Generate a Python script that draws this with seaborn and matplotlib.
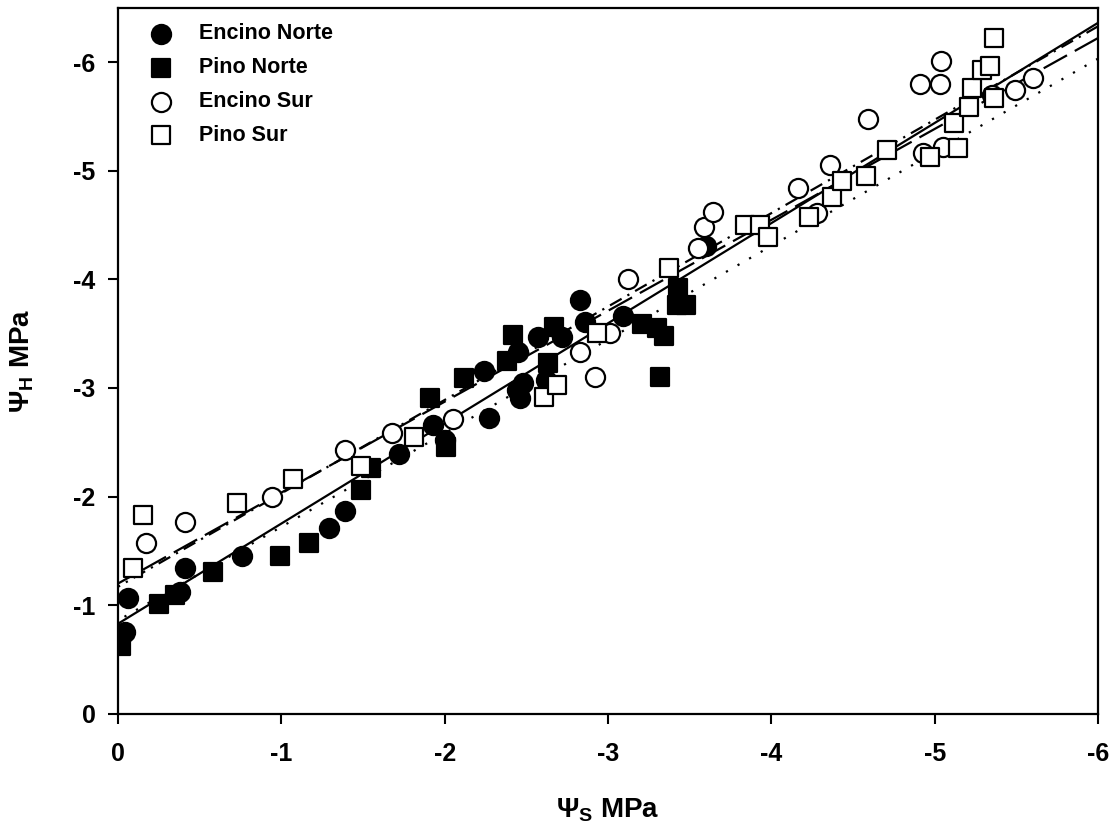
import numpy as np
import pandas as pd
import matplotlib
matplotlib.use("Agg")
import matplotlib.pyplot as plt
import seaborn as sns

# Water potential: soil (x) vs. plant (y), MPa
encino_norte_x = [-0.04, -0.06, -0.38, -0.41, -0.76, -1.29, -1.39, -1.72, -1.93, -2.00,
                  -2.27, -2.24, -2.44, -2.46, -2.48, -2.45, -2.57, -2.62, -2.72, -2.83,
                  -2.86, -3.09, -3.60]
encino_norte_y = [-0.75, -1.07, -1.12, -1.34, -1.45, -1.71, -1.87, -2.39, -2.66, -2.52,
                  -2.72, -3.16, -2.98, -2.91, -3.05, -3.33, -3.47, -3.07, -3.47, -3.81,
                  -3.61, -3.66, -4.31]

pino_norte_x = [-0.02, -0.25, -0.35, -0.58, -0.99, -1.17, -1.49, -1.55, -1.91, -2.01,
                -2.12, -2.38, -2.42, -2.63, -2.67, -3.21, -3.30, -3.34, -3.32, -3.42,
                -3.43, -3.48]
pino_norte_y = [-0.62, -1.01, -1.09, -1.31, -1.45, -1.57, -2.06, -2.26, -2.91, -2.46,
                -3.09, -3.25, -3.49, -3.23, -3.56, -3.59, -3.55, -3.48, -3.10, -3.76,
                -3.92, -3.76]

encino_sur_x = [-0.17, -0.41, -0.94, -1.39, -1.68, -2.05, -2.83, -2.92, -3.01, -3.12,
                -3.55, -3.59, -3.64, -4.16, -4.28, -4.36, -4.59, -4.91, -4.93, -5.03,
                -5.04, -5.05, -5.35, -5.49, -5.60]
encino_sur_y = [-1.57, -1.77, -2.00, -2.43, -2.59, -2.71, -3.33, -3.10, -3.51, -4.00,
                -4.29, -4.48, -4.62, -4.84, -4.61, -5.05, -5.48, -5.80, -5.16, -5.80,
                -6.01, -5.22, -5.70, -5.74, -5.85]

pino_sur_x = [-0.09, -0.15, -0.73, -1.07, -1.49, -1.81, -2.61, -2.69, -2.93, -3.37,
              -3.84, -3.93, -3.98, -4.23, -4.37, -4.43, -4.58, -4.71, -4.97, -5.14,
              -5.12, -5.21, -5.23, -5.29, -5.34, -5.36, -5.36]
pino_sur_y = [-1.34, -1.83, -1.94, -2.16, -2.28, -2.55, -2.92, -3.03, -3.51, -4.10,
              -4.50, -4.50, -4.39, -4.57, -4.76, -4.91, -4.95, -5.19, -5.13, -5.21,
              -5.44, -5.59, -5.76, -5.93, -5.96, -6.22, -5.67]

groups = ["Encino Norte", "Pino Norte", "Encino Sur", "Pino Sur"]
xs = [encino_norte_x, pino_norte_x, encino_sur_x, pino_sur_x]
ys = [encino_norte_y, pino_norte_y, encino_sur_y, pino_sur_y]

# Linear fits (y = a + b*x) for each group
fit_intercept = [-0.83, -0.86, -1.20, -1.17]
fit_slope = [0.922, 0.862, 0.837, 0.860]

x_ticks = [0, -1, -2, -3, -4, -5, -6]
y_ticks = [0, -1, -2, -3, -4, -5, -6]

sns.set_theme(style="white")
plt.rcParams["font.family"] = ["Liberation Sans", "DejaVu Sans"]
plt.rcParams["font.weight"] = "bold"
plt.rcParams["text.color"] = "black"
plt.rcParams["axes.labelcolor"] = "black"
plt.rcParams["xtick.color"] = "black"
plt.rcParams["ytick.color"] = "black"
plt.rcParams["axes.unicode_minus"] = False
plt.rcParams["mathtext.fontset"] = "custom"
plt.rcParams["mathtext.rm"] = "Liberation Sans:bold"
plt.rcParams["mathtext.it"] = "Liberation Sans:bold"
plt.rcParams["mathtext.bf"] = "Liberation Sans:bold"

fig = plt.figure(figsize=(11.14, 8.31), dpi=100)
ax = fig.add_axes([0.106, 0.141, 0.8797, 0.8496])

markers = ["o", "s", "o", "s"]
sizes = [190, 160, 190, 160]
faces = ["black", "black", "white", "white"]
linestyles = ["-", (0, (1, 5)), (0, (12, 4)), (0, (6, 3, 1, 3))]

df = pd.concat(
    [pd.DataFrame({"x": x, "y": y, "grupo": g}) for g, x, y in zip(groups, xs, ys)],
    ignore_index=True,
)

xline = np.linspace(0, -6, 50)
for g, a, b, ls in zip(groups, fit_intercept, fit_slope, linestyles):
    sns.lineplot(x=xline, y=a + b * xline, ax=ax, color="black",
                 linestyle=ls, linewidth=1.6, zorder=2)

for g, m, sz, fc in zip(groups, markers, sizes, faces):
    sub = df[df["grupo"] == g]
    sns.scatterplot(data=sub, x="x", y="y", ax=ax, marker=m, s=sz,
                    color=fc, edgecolor="black", linewidth=1.6,
                    label=g, zorder=3)

ax.set_xlim(0, -6)
ax.set_ylim(0, -6.5)
ax.set_xticks(x_ticks)
ax.set_yticks(y_ticks)
ax.set_xticklabels([f"{t:g}" for t in x_ticks])
ax.set_yticklabels([f"{t:g}" for t in y_ticks])

ax.tick_params(axis="both", which="major", direction="out", length=7.2, width=1.5,
               labelsize=18, color="black", labelcolor="black",
               bottom=True, left=True, top=False, right=False)
ax.tick_params(axis="y", pad=9)
ax.tick_params(axis="x", pad=13)
for lbl in ax.get_xticklabels() + ax.get_yticklabels():
    lbl.set_fontweight("bold")

for sp in ax.spines.values():
    sp.set_color("black")
    sp.set_linewidth(1.6)

ax.set_xlabel(r"$\Psi_\mathrm{S}$ MPa", fontsize=20, fontweight="bold", labelpad=22)
ax.set_ylabel(r"$\Psi_\mathrm{H}$ MPa", fontsize=20, fontweight="bold", labelpad=27)

leg = ax.legend(loc="upper left", frameon=False, fontsize=15.5, scatterpoints=1,
                handlelength=2.0, handletextpad=0.77, labelspacing=0.6,
                borderpad=0, borderaxespad=0,
                bbox_to_anchor=(0.022, 0.978))
for t in leg.get_texts():
    t.set_fontweight("bold")

fig.savefig("out.png", dpi=100)
